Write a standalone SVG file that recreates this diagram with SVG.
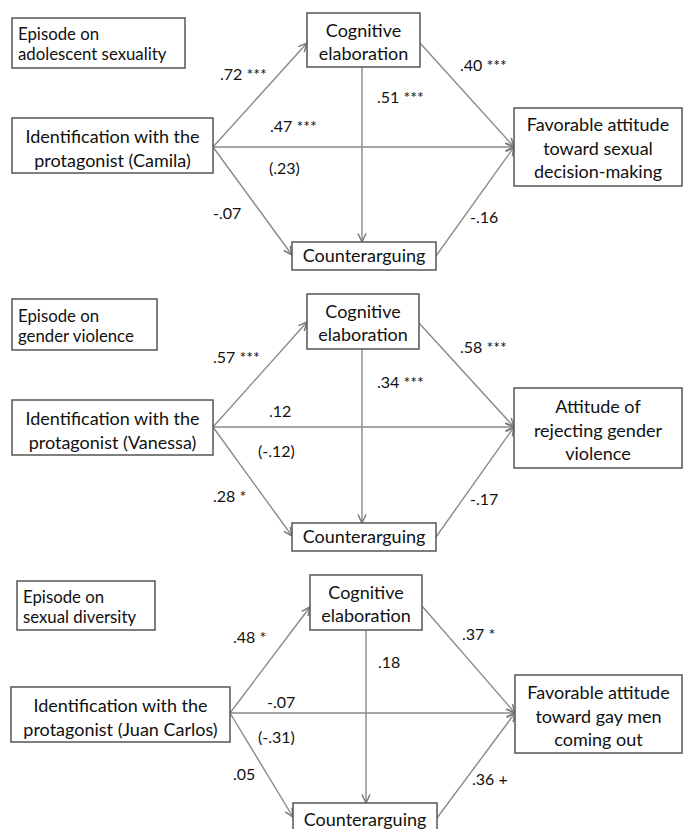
<svg xmlns="http://www.w3.org/2000/svg" width="683" height="829" viewBox="0 0 683 829">
<defs>
<marker id="ah" viewBox="0 0 10 10" refX="9.5" refY="5" markerWidth="10" markerHeight="10" markerUnits="userSpaceOnUse" orient="auto">
<polyline points="1,1 9.5,5 1,9" fill="none" stroke="#7a7a7a" stroke-width="1.5"/>
</marker>
<style>
.box{fill:#fff;stroke:#555;stroke-width:1.5}
.t{font-family:Lato,"Liberation Sans",sans-serif;font-size:18px;fill:#111;text-anchor:middle}
.ep{font-family:Lato,"Liberation Sans",sans-serif;font-size:16.8px;fill:#111}
.lb{font-family:Lato,"Liberation Sans",sans-serif;font-size:16px;fill:#111}
.c{fill:none;stroke:#8a8a8a;stroke-width:1.4;marker-end:url(#ah)}
</style>
</defs>
<rect width="683" height="829" fill="#fff"/>

<g id="connectors">
<line class="c" x1="213" y1="147" x2="307" y2="43"/>
<line class="c" x1="213" y1="147" x2="514" y2="147"/>
<line class="c" x1="213" y1="147" x2="292" y2="255"/>
<line class="c" x1="362" y1="67" x2="362" y2="242"/>
<line class="c" x1="420" y1="43" x2="514" y2="147"/>
<line class="c" x1="436" y1="256" x2="514" y2="147"/>
<line class="c" x1="213" y1="427" x2="307" y2="322"/>
<line class="c" x1="213" y1="427" x2="514" y2="427"/>
<line class="c" x1="213" y1="427" x2="292" y2="536"/>
<line class="c" x1="362" y1="349" x2="362" y2="523"/>
<line class="c" x1="419" y1="323" x2="514" y2="427"/>
<line class="c" x1="436" y1="537" x2="514" y2="427"/>
<line class="c" x1="230" y1="713" x2="310" y2="607"/>
<line class="c" x1="230" y1="713" x2="515" y2="713"/>
<line class="c" x1="230" y1="713" x2="293" y2="817"/>
<line class="c" x1="366" y1="630" x2="366" y2="803"/>
<line class="c" x1="422" y1="606" x2="515" y2="713"/>
<line class="c" x1="437" y1="818" x2="515" y2="713"/>
</g>

<g id="labels">
<text class="lb" x="220" y="80">.72 ***</text>
<text class="lb" x="270" y="132">.47 ***</text>
<text class="lb" x="269" y="174">(.23)</text>
<text class="lb" x="213" y="219">-.07</text>
<text class="lb" x="377" y="103">.51 ***</text>
<text class="lb" x="460" y="71">.40 ***</text>
<text class="lb" x="470" y="223">-.16</text>

<text class="lb" x="213" y="363">.57 ***</text>
<text class="lb" x="269" y="417">.12</text>
<text class="lb" x="258" y="457">(-.12)</text>
<text class="lb" x="213" y="502">.28 *</text>
<text class="lb" x="377" y="388">.34 ***</text>
<text class="lb" x="460" y="353">.58 ***</text>
<text class="lb" x="470" y="505">-.17</text>

<text class="lb" x="233" y="643">.48 *</text>
<text class="lb" x="267" y="708">-.07</text>
<text class="lb" x="258" y="743">(-.31)</text>
<text class="lb" x="233" y="780">.05</text>
<text class="lb" x="378" y="668">.18</text>
<text class="lb" x="462" y="640">.37 *</text>
<text class="lb" x="472" y="785">.36 +</text>
</g>

<g id="ep1">
<rect class="box" x="12" y="18" width="173" height="50"/>
<text class="ep" x="18" y="40">Episode on</text>
<text class="ep" x="18" y="60">adolescent sexuality</text>
</g>
<g id="id1">
<rect class="box" x="12" y="118" width="201" height="55"/>
<text class="t" x="112.5" y="143">Identification with the</text>
<text class="t" x="112.5" y="167">protagonist (Camila)</text>
</g>
<g id="cog1">
<rect class="box" x="307" y="13" width="113" height="54"/>
<text class="t" x="363.5" y="37">Cognitive</text>
<text class="t" x="363.5" y="60">elaboration</text>
</g>
<g id="cnt1">
<rect class="box" x="292" y="242" width="144" height="28"/>
<text class="t" x="364" y="262">Counterarguing</text>
</g>
<g id="out1">
<rect class="box" x="514" y="108" width="168" height="78"/>
<text class="t" x="598" y="131">Favorable attitude</text>
<text class="t" x="598" y="155">toward sexual</text>
<text class="t" x="598" y="178">decision-making</text>
</g>

<g id="ep2">
<rect class="box" x="12" y="299" width="145" height="51"/>
<text class="ep" x="18" y="322">Episode on</text>
<text class="ep" x="18" y="342">gender violence</text>
</g>
<g id="id2">
<rect class="box" x="12" y="400" width="201" height="55"/>
<text class="t" x="112.5" y="425">Identification with the</text>
<text class="t" x="112.5" y="449">protagonist (Vanessa)</text>
</g>
<g id="cog2">
<rect class="box" x="307" y="294" width="112" height="55"/>
<text class="t" x="363" y="318">Cognitive</text>
<text class="t" x="363" y="341">elaboration</text>
</g>
<g id="cnt2">
<rect class="box" x="292" y="523" width="144" height="28"/>
<text class="t" x="364" y="543">Counterarguing</text>
</g>
<g id="out2">
<rect class="box" x="514" y="388" width="168" height="80"/>
<text class="t" x="598" y="413">Attitude of</text>
<text class="t" x="598" y="437">rejecting gender</text>
<text class="t" x="598" y="460">violence</text>
</g>

<g id="ep3">
<rect class="box" x="17" y="581" width="138" height="49"/>
<text class="ep" x="23" y="603">Episode on</text>
<text class="ep" x="23" y="623">sexual diversity</text>
</g>
<g id="id3">
<rect class="box" x="11" y="687" width="219" height="55"/>
<text class="t" x="120.5" y="712">Identification with the</text>
<text class="t" x="120.5" y="736">protagonist (Juan Carlos)</text>
</g>
<g id="cog3">
<rect class="box" x="310" y="575" width="112" height="55"/>
<text class="t" x="366" y="599">Cognitive</text>
<text class="t" x="366" y="622">elaboration</text>
</g>
<g id="cnt3">
<rect class="box" x="293" y="803" width="144" height="40"/>
<text class="t" x="365" y="826">Counterarguing</text>
</g>
<g id="out3">
<rect class="box" x="515" y="675" width="167" height="78"/>
<text class="t" x="598.5" y="699">Favorable attitude</text>
<text class="t" x="598.5" y="723">toward gay men</text>
<text class="t" x="598.5" y="746">coming out</text>
</g>
</svg>
